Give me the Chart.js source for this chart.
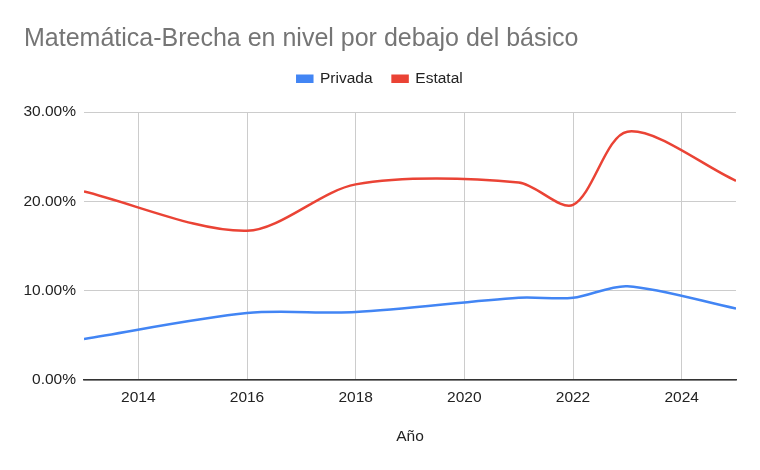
<!DOCTYPE html>
<html>
<head>
<meta charset="utf-8">
<script src="https://cdn.jsdelivr.net/npm/chart.js@4.4.0/dist/chart.umd.min.js"></script>
<style>
  html, body { margin: 0; padding: 0; background: #fff; }
  #wrap { width: 760px; height: 470px; }
</style>
</head>
<body>
<div id="wrap"><canvas id="chart"></canvas></div>
<script>
// Años con dato y porcentaje por debajo del nivel básico
const years = [2013, 2016, 2018, 2021, 2022, 2023, 2025];
const privada = [4.6, 7.5, 7.6, 9.2, 9.2, 10.5, 8.0];
const estatal = [21.1, 16.7, 21.9, 22.1, 19.6, 27.8, 22.3];
const xTicks = [2014, 2016, 2018, 2020, 2022, 2024];
const yTicks = [0, 10, 20, 30];

const FONT = "'Liberation Sans', Arial, sans-serif";
const toPoints = vals => years.map((y, i) => ({ x: y, y: vals[i] }));

// extra space under the legend
const legendGap = {
    id: 'legendGap',
    beforeInit(chart) {
        const fit = chart.legend.fit;
        chart.legend.fit = function () {
            fit.bind(chart.legend)();
            this.height += 15.5;
        };
    }
};

const ctx = document.getElementById('chart');
new Chart(ctx, {
    type: 'line',
    data: {
        datasets: [
            {
                label: 'Privada',
                data: toPoints(privada),
                borderColor: '#4285F4',
                backgroundColor: '#4285F4',
                borderWidth: 2.5,
                pointRadius: 0,
                tension: 0.3
            },
            {
                label: 'Estatal',
                data: toPoints(estatal),
                borderColor: '#EA4335',
                backgroundColor: '#EA4335',
                borderWidth: 2.5,
                pointRadius: 0,
                tension: 0.3
            }
        ]
    },
    plugins: [legendGap],
    options: {
        responsive: true,
        maintainAspectRatio: false,
        animation: false,
        layout: { padding: { left: 24, right: 24, top: 0, bottom: 20 } },
        plugins: {
            title: {
                display: true,
                text: 'Matemática-Brecha en nivel por debajo del básico',
                align: 'start',
                color: '#757575',
                font: { family: FONT, size: 25, weight: 'normal' },
                padding: { top: 24, bottom: -3 }
            },
            legend: {
                labels: {
                    color: '#222',
                    font: { family: FONT, size: 15.5 },
                    boxWidth: 15,
                    boxHeight: 6,
                    padding: 20
                }
            },
            tooltip: { enabled: false }
        },
        scales: {
            x: {
                type: 'linear',
                min: 2013,
                max: 2025,
                afterBuildTicks: s => { s.ticks = xTicks.map(v => ({ value: v })); },
                afterFit: s => { s.height = 70; },
                grid: { color: '#cccccc', drawTicks: false },
                border: { color: '#333', width: 1.5 },
                ticks: {
                    color: '#222',
                    font: { family: FONT, size: 15.5 },
                    padding: 8,
                    callback: v => String(v)
                },
                title: {
                    display: true,
                    text: 'Año',
                    color: '#222',
                    font: { family: FONT, size: 15.5 },
                    padding: { top: 20 }
                }
            },
            y: {
                min: 0,
                max: 30,
                afterBuildTicks: s => { s.ticks = yTicks.map(v => ({ value: v })); },
                afterFit: s => { s.width = 60; },
                grid: { color: '#cccccc', drawTicks: false },
                border: { display: false },
                ticks: {
                    color: '#222',
                    font: { family: FONT, size: 15.5 },
                    padding: 8,
                    callback: v => v.toFixed(2) + '%'
                }
            }
        }
    }
});
</script>
</body>
</html>
